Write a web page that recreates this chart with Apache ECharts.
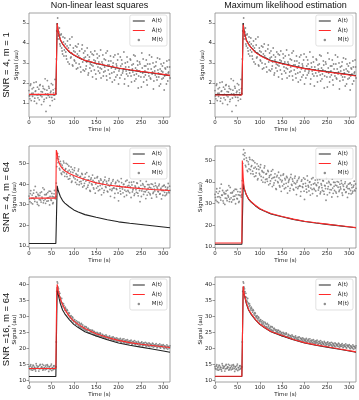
<!DOCTYPE html>
<html><head><meta charset="utf-8">
<script src="https://cdn.jsdelivr.net/npm/echarts@6/dist/echarts.min.js"></script>
<style>html,body{margin:0;padding:0;background:#fff}#c{width:359px;height:400px}</style>
</head><body><div id="c"></div>
<script>
// ---- data ----
const TIME = [0,2,4,6,8,10,12,14,16,18,20,22,24,26,28,30,32,34,36,38,40,42,44,46,48,50,52,54,56,58,60,
62,64,66,68,70,72,74,76,78,80,82,84,86,88,90,92,94,96,98,100,102,104,106,108,110,112,114,116,118,120,
122,124,126,128,130,132,134,136,138,140,142,144,146,148,150,152,154,156,158,160,162,164,166,168,170,172,174,176,178,180,
182,184,186,188,190,192,194,196,198,200,202,204,206,208,210,212,214,216,218,220,222,224,226,228,230,232,234,236,238,240,
242,244,246,248,250,252,254,256,258,260,262,264,266,268,270,272,274,276,278,280,282,284,286,288,290,292,294,296,298,300,
302,304,306,308,310,312,314,316,318];
const TIME_B = [1,3,5,7,9,11,13,15,17,19,21,23,25,27,29,31,33,35,37,39,41,43,45,47,49,51,53,55,57,59,61,
63,65,67,69,71,73,75,77,79,81,83,85,87,89,91,93,95,97,99,101,103,105,107,109,111,113,115,117,119,121,
123,125,127,129,131,133,135,137,139,141,143,145,147,149,151,153,155,157,159,161,163,165,167,169,171,173,175,177,179,181,
183,185,187,189,191,193,195,197,199,201,203,205,207,209,211,213,215,217,219,221,223,225,227,229,231,233,235,237,239,241,
243,245,247,249,251,253,255,257,259,261,263,265,267,269,271,273,275,277,279,281,283,285,287,289,291,293,295,297,299,301,
303,305,307,309,311,313,315,317];
const M1 = [1.62,1.21,1.95,1.48,1.33,1.77,1.09,1.58,2.05,1.41,1.26,1.69,1.88,1.37,0.92,1.55,1.73,1.18,2.21,0.58,
1.64,1.45,1.83,1.29,1.52,1.97,1.12,1.66,1.39,2.18,1.47,
4.6,5.25,4.35,4.75,3.85,4.45,3.6,4.3,3.35,4.25,
3.55,3.2,4.1,3.75,2.95,3.9,3.3,4.3,2.85,3.6,
3.1,3.85,2.7,3.45,3.95,2.95,3.25,2.55,3.7,3.05,
3.5,2.6,3.3,2.85,3.75,2.4,3.15,2.75,3.55,2.9,
2.3,3.4,2.65,3.1,2.2,3.45,2.8,3.05,2.5,3.65,
2.7,2.95,2.35,3.2,2.6,3.5,2.15,2.9,3.1,2.45,
3.35,2.75,2.05,3.0,2.55,3.4,2.3,2.85,3.15,1.95,
2.7,3.3,2.4,2.95,2.6,3.55,2.2,2.8,2.45,3.05,
1.85,2.65,3.2,2.35,2.9,2.55,3.4,2.1,2.75,2.45,
3.1,1.75,2.6,2.95,2.3,3.5,2.5,2.05,2.85,2.4,
3.15,1.9,2.7,2.35,2.95,2.2,3.3,2.55,1.7,2.8,
2.4,3.05,2.15,2.65,2.3,3.2,1.95,2.6,2.85,2.25,
1.65,2.75,2.45,3.1,2.1,2.55,2.8,2.3,2.6];
const M1B = [1.35,1.88,1.12,1.71,1.49,2.02,1.24,1.61,0.98,1.79,1.43,1.16,1.92,1.57,1.31,1.84,1.07,1.68,1.46,1.25,
2.12,1.38,1.74,0.87,1.59,1.28,1.91,1.51,1.19,1.72,3.2,
4.95,4.2,4.55,3.95,4.4,3.75,3.45,4.05,3.65,3.95,
3.35,3.85,3.05,3.6,4.2,3.25,3.5,2.9,3.75,3.15,
3.55,3.0,3.8,2.75,3.35,3.6,2.8,3.2,3.9,2.65,
3.25,3.6,2.7,3.05,3.4,2.5,3.3,2.95,2.6,3.45,
2.85,3.15,3.6,2.45,2.95,3.25,2.6,3.35,2.75,2.25,
3.05,3.4,2.55,2.8,3.15,2.35,3.6,2.65,2.9,2.25,
3.1,2.5,2.85,3.3,2.15,2.7,2.95,2.4,3.45,2.6,
2.25,2.85,3.15,2.5,2.7,1.95,3.0,2.6,3.3,2.35,
2.8,2.5,3.15,2.05,2.7,2.95,2.4,3.35,2.2,2.65,
2.9,2.35,3.05,2.55,1.8,2.75,3.2,2.3,2.6,2.85,
2.15,2.95,2.5,3.4,2.25,2.7,2.45,3.0,2.1,2.6,
2.85,2.3,3.25,2.5,1.85,2.7,2.95,2.2,2.55,3.0,
2.35,2.7,1.95,2.8,2.5,3.15,2.25,2.6];
const M2 = [34.2,31.5,36.8,33.1,30.4,35.6,32.7,38.9,33.8,31.2,35.1,29.6,34.5,32.3,36.2,33.0,30.9,37.4,32.6,34.8,
31.7,35.9,33.4,29.9,36.5,32.1,34.0,31.0,35.3,33.6,34.1,
48.5,54.8,52.1,47.6,51.0,45.3,49.2,46.0,50.3,43.8,
47.5,44.9,49.6,42.4,46.8,44.1,48.3,41.5,45.7,43.2,
47.9,40.8,44.6,42.0,46.4,39.7,43.5,41.3,45.2,38.6,
42.8,40.4,44.9,37.8,41.9,39.5,43.7,36.9,42.3,40.1,
44.4,38.2,41.0,35.6,40.7,43.1,38.9,41.6,37.3,42.5,
34.8,39.8,41.2,37.0,43.4,38.4,40.3,36.2,41.7,39.1,
34.1,40.6,37.7,42.2,38.0,35.5,40.9,37.4,41.8,31.9,
39.3,36.6,42.7,38.3,35.8,40.0,37.1,41.4,34.6,39.0,
36.4,40.8,38.7,33.5,39.6,37.2,41.1,35.3,38.5,36.0,
40.4,34.3,38.1,31.5,39.4,36.7,40.2,35.0,38.8,36.3,
41.3,34.7,37.9,39.7,35.4,38.2,33.2,39.9,36.1,37.6,
40.5,34.9,38.6,36.5,39.2,35.1,37.5,32.8,38.9,36.8,
39.5,34.4,37.3,35.7,38.4,36.2,39.0,35.2,37.7];
const M2B = [32.8,35.4,30.9,34.7,33.2,37.1,31.6,33.9,36.0,30.2,34.4,32.5,35.8,31.3,33.7,38.2,32.0,34.9,30.7,35.2,
33.3,31.9,36.6,34.0,32.4,35.5,30.5,33.8,36.9,32.9,40.5,
52.6,50.4,53.3,46.9,49.8,44.7,48.1,51.2,45.6,47.0,
50.1,43.6,46.3,48.8,42.7,45.9,40.9,47.2,43.9,46.6,
42.5,45.1,39.9,44.3,47.3,41.1,43.8,40.2,44.7,42.0,
39.2,43.3,41.5,45.6,38.5,42.1,40.7,36.5,43.0,39.6,
41.8,37.6,42.9,40.0,38.1,43.6,36.8,40.9,39.3,41.9,
37.9,40.5,35.9,42.0,38.8,41.3,36.6,39.5,42.6,37.4,
39.9,36.9,41.5,38.2,33.4,40.3,37.8,39.0,35.7,41.2,
38.0,35.2,40.7,37.6,39.8,33.9,38.6,36.5,41.9,37.0,
39.4,35.8,38.3,40.9,36.2,37.7,34.5,39.1,37.3,40.6,
35.6,38.4,36.9,41.6,34.0,37.8,39.6,36.4,38.7,33.0,
37.1,39.8,36.0,38.5,34.8,40.1,37.5,35.5,38.9,36.7,
39.3,33.8,37.9,36.3,40.0,35.4,38.1,36.9,34.6,39.2,
36.0,38.6,34.9,37.6,40.3,35.8,37.0,38.2];
const M3 = [14.3,13.6,14.9,13.9,13.2,14.6,14.1,13.4,15.2,13.8,14.4,12.9,14.7,13.7,14.2,15.0,13.5,14.0,13.3,14.8,
13.9,14.5,12.8,14.3,13.6,15.1,14.0,13.4,14.6,13.8,14.2,
37.8,40.4,38.6,36.1,35.9,34.6,34.2,33.1,33.4,32.0,
32.5,31.3,31.8,30.4,30.9,29.6,30.2,28.9,29.5,28.3,
29.0,27.6,28.6,27.9,27.2,28.1,26.8,27.5,26.4,27.3,
26.1,26.9,25.7,26.6,25.4,26.3,25.9,24.8,25.8,24.9,
25.6,24.3,25.2,24.6,23.9,25.0,24.1,24.7,23.6,24.5,
23.8,24.4,23.2,24.0,23.5,24.2,22.9,23.7,23.1,23.9,
22.6,23.4,22.8,23.6,22.4,23.2,22.7,23.3,22.1,22.9,
22.3,23.1,21.9,22.6,22.2,23.0,21.7,22.5,21.9,22.7,
21.5,22.3,21.8,22.6,21.3,22.1,21.6,22.4,21.2,21.9,
21.4,22.2,20.9,21.7,21.2,22.0,20.8,21.6,21.1,21.9,
20.6,21.4,20.9,21.7,20.5,21.3,20.8,21.6,20.4,21.1,
20.7,21.5,20.2,21.0,20.6,21.4,20.1,20.9,20.5,21.2,
19.9,20.7,20.3,21.1,19.8,20.6,20.2,20.9,20.0];
const M3B = [13.7,14.5,13.3,14.2,14.8,13.5,14.0,12.9,14.6,13.9,14.3,13.6,15.0,13.8,14.1,13.2,14.7,13.9,14.4,13.5,
14.9,13.7,14.2,13.4,14.6,13.1,14.0,14.5,13.6,14.3,22.0,
40.8,39.1,37.7,37.2,35.1,35.6,33.9,34.0,32.6,32.9,
31.9,32.1,30.8,31.2,30.1,30.0,29.4,29.8,28.6,28.9,
28.4,28.0,27.5,28.3,26.9,27.7,26.6,27.8,26.9,26.2,
26.5,25.9,26.8,25.6,26.1,24.9,25.7,25.2,25.3,25.6,
24.8,25.3,24.4,24.9,24.2,24.7,23.8,24.3,24.8,23.7,
23.6,24.1,23.4,23.9,23.1,23.8,23.6,22.9,23.5,23.3,
23.0,22.7,23.4,22.5,23.1,22.9,22.3,23.0,22.6,22.4,
22.8,22.1,22.5,22.9,21.8,22.4,22.1,22.6,21.6,22.2,
22.0,21.6,22.3,21.9,21.4,22.2,21.7,21.3,22.0,21.6,
21.3,21.9,21.5,21.1,21.8,21.4,21.0,21.7,21.2,20.9,
21.6,21.1,20.7,21.5,21.0,21.2,20.6,21.4,20.9,20.6,
21.2,20.8,20.4,21.1,20.7,20.3,21.0,20.6,20.9,20.2,
20.8,20.4,20.0,20.7,20.5,20.1,20.8,20.3];
// curve knots
const CT  = [0,60,61,62,63,65,70,75,80,90,100,110,125,150,175,200,225,250,275,300,315];
const A1  = [1.42,1.42,2.6,3.8,5.0,4.6,4.15,3.95,3.8,3.55,3.4,3.28,3.12,2.98,2.85,2.74,2.65,2.57,2.5,2.42,2.37];
const F1  = [1.43,1.43,2.6,3.8,4.98,4.62,4.17,3.97,3.82,3.57,3.41,3.29,3.13,2.99,2.86,2.75,2.66,2.58,2.51,2.43,2.38];
const F2  = [1.40,1.40,2.6,3.8,4.92,4.55,4.12,3.92,3.78,3.53,3.38,3.26,3.1,2.96,2.83,2.72,2.63,2.55,2.48,2.4,2.35];
const A64 = [11.2,11.2,20.5,30,39.2,37,34,32,30.8,29,27.5,26.5,25.2,23.9,22.7,21.7,21.0,20.4,19.8,19.2,18.8];
const F3  = [33.2,33.2,56.5,56.0,55.0,51.5,49.0,47.5,46.5,45.2,44.2,43.3,42.2,40.6,39.6,38.9,38.3,37.8,37.4,37.1,36.9];
const F4  = [11.8,11.8,49.8,46.5,42.0,37.2,34.0,32.2,31.0,29.2,27.7,26.7,25.4,24.0,22.8,21.8,21.1,20.5,19.9,19.3,18.9];
const F5  = [13.7,13.7,27,37,40.0,38.2,35.5,33.6,32.2,30.0,28.5,27.5,26.2,24.6,23.4,22.5,21.8,21.3,20.9,20.5,20.3];
const F6  = [11.3,11.3,20.5,30,39.5,37.2,34.2,32.2,31.0,29.1,27.6,26.6,25.3,24.0,22.8,21.8,21.1,20.5,19.9,19.3,18.9];
const XTICKS = [0,50,100,150,200,250,300];
const YTICKS1 = [1,2,3,4,5];
const YTICKS2 = [10,20,30,40,50];
const YTICKS3 = [10,15,20,25,30,35,40];
const COL_TITLES = ['Non-linear least squares','Maximum likelihood estimation'];
const ROW_LABELS = ['SNR = 4, m = 1','SNR = 4, m = 64','SNR =16, m = 64'];
const NAMES = ['A(t)','\u00C2(t)','M(t)'];
const X_NAME = 'Time (s)';
const Y_NAME = 'Signal (au)';

// ---- layout ----
const panels = [
  {grid:{left:29,top:13,width:141,height:104}, y:[0.3,5.5], yt:YTICKS1, A:A1, F:F1, M:M1, MB:M1B, nx:16.5},
  {grid:{left:215,top:13,width:141,height:104}, y:[0.3,5.5], yt:YTICKS1, A:A1, F:F2, M:M1, MB:M1B, nx:203},
  {grid:{left:29,top:146,width:141,height:102}, y:[9,58.5], yt:YTICKS2, A:A64, F:F3, M:M2, MB:M2B, nx:14.5},
  {grid:{left:215,top:146,width:141,height:102}, y:[9.5,56.5], yt:YTICKS2, A:A64, F:F4, M:M2, MB:M2B, nx:201},
  {grid:{left:29,top:277,width:141,height:105}, y:[9.5,42.3], yt:YTICKS3, A:A64, F:F5, M:M3, MB:M3B, nx:14.5},
  {grid:{left:215,top:277,width:141,height:105}, y:[9.5,42.3], yt:YTICKS3, A:A64, F:F6, M:M3, MB:M3B, nx:201}
];
const zip = (xs, ys) => xs.map((x, i) => [x, ys[i]]);
const tickFont = {fontFamily:'DejaVu Sans', fontSize:5.5, color:'#222'};
const LINE_ICON = 'path://M0,0H12V1H0Z';

const grids=[], xAxes=[], yAxes=[], series=[], legends=[], graphics=[];
panels.forEach((p, i) => {
  const g = p.grid;
  grids.push(Object.assign({show:true, borderColor:'#8a8a8a', borderWidth:0.8, containLabel:false}, g));
  xAxes.push({type:'value', gridIndex:i, min:0, max:315,
    axisLine:{show:false}, splitLine:{show:false},
    axisTick:{show:true, length:2.5, lineStyle:{color:'#555', width:0.6}, customValues:XTICKS},
    axisLabel:Object.assign({margin:3, customValues:XTICKS}, tickFont),
    name:X_NAME, nameLocation:'middle', nameGap:10, nameTextStyle:tickFont});
  yAxes.push({type:'value', gridIndex:i, min:p.y[0], max:p.y[1],
    axisLine:{show:false}, splitLine:{show:false},
    axisTick:{show:true, length:2.5, lineStyle:{color:'#555', width:0.6}, customValues:p.yt},
    axisLabel:Object.assign({margin:3, customValues:p.yt}, tickFont)});
  series.push({type:'scatter', name:NAMES[2], xAxisIndex:i, yAxisIndex:i,
    data:zip(TIME, p.M).concat(zip(TIME_B, p.MB)),
    symbolSize:1.8, itemStyle:{color:'#7a7a7a', opacity:0.85}, z:2, silent:true});
  series.push({type:'line', name:NAMES[0], xAxisIndex:i, yAxisIndex:i, data:zip(CT, p.A),
    symbol:'none', lineStyle:{color:'#222', width:1.1}, itemStyle:{color:'#222'}, z:3, silent:true});
  series.push({type:'line', name:NAMES[1], xAxisIndex:i, yAxisIndex:i, data:zip(CT, p.F),
    symbol:'none', lineStyle:{color:'#ff2b2b', width:1.1}, itemStyle:{color:'#ff2b2b'}, z:4, silent:true});
  legends.push({orient:'vertical', right:359-(g.left+g.width)+3, top:g.top+2,
    data:[{name:NAMES[0], icon:LINE_ICON, itemStyle:{color:'#222'}},
          {name:NAMES[1], icon:LINE_ICON, itemStyle:{color:'#ff2b2b'}},
          {name:NAMES[2], icon:'circle', itemStyle:{color:'#7a7a7a'}}],
    itemWidth:12, itemHeight:2.5, itemGap:3.5, padding:[3,4,3,3], symbolKeepAspect:true,
    borderColor:'#cfcfcf', borderWidth:0.6, borderRadius:2, backgroundColor:'rgba(255,255,255,0.8)',
    textStyle:{fontFamily:'DejaVu Sans', fontSize:5.5, color:'#222', padding:[0,0,0,2]},
    selectedMode:false});
  graphics.push({type:'text', x:p.nx, y:g.top + g.height/2, rotation:Math.PI/2,
    style:{text:Y_NAME, align:'center', verticalAlign:'middle', fontFamily:'DejaVu Sans', fontSize:5.5, fill:'#222'}});
});

COL_TITLES.forEach((t, i) => {
  const g = panels[i].grid;
  graphics.push({type:'text', x:g.left + g.width/2, y:1,
    style:{text:t, align:'center', verticalAlign:'top', fontFamily:'Liberation Sans', fontSize:9, fill:'#111'}});
});
ROW_LABELS.forEach((t, r) => {
  const g = panels[r*2].grid;
  graphics.push({type:'text', x:6.5, y:g.top + g.height/2, rotation:Math.PI/2,
    style:{text:t, align:'center', verticalAlign:'middle', fontFamily:'Liberation Sans', fontSize:9.5, fill:'#111'}});
});

const chart = echarts.init(document.getElementById('c'), null, {renderer:'canvas'});
chart.setOption({animation:false, grid:grids, xAxis:xAxes, yAxis:yAxes, series:series, legend:legends, graphic:graphics});
</script></body></html>
